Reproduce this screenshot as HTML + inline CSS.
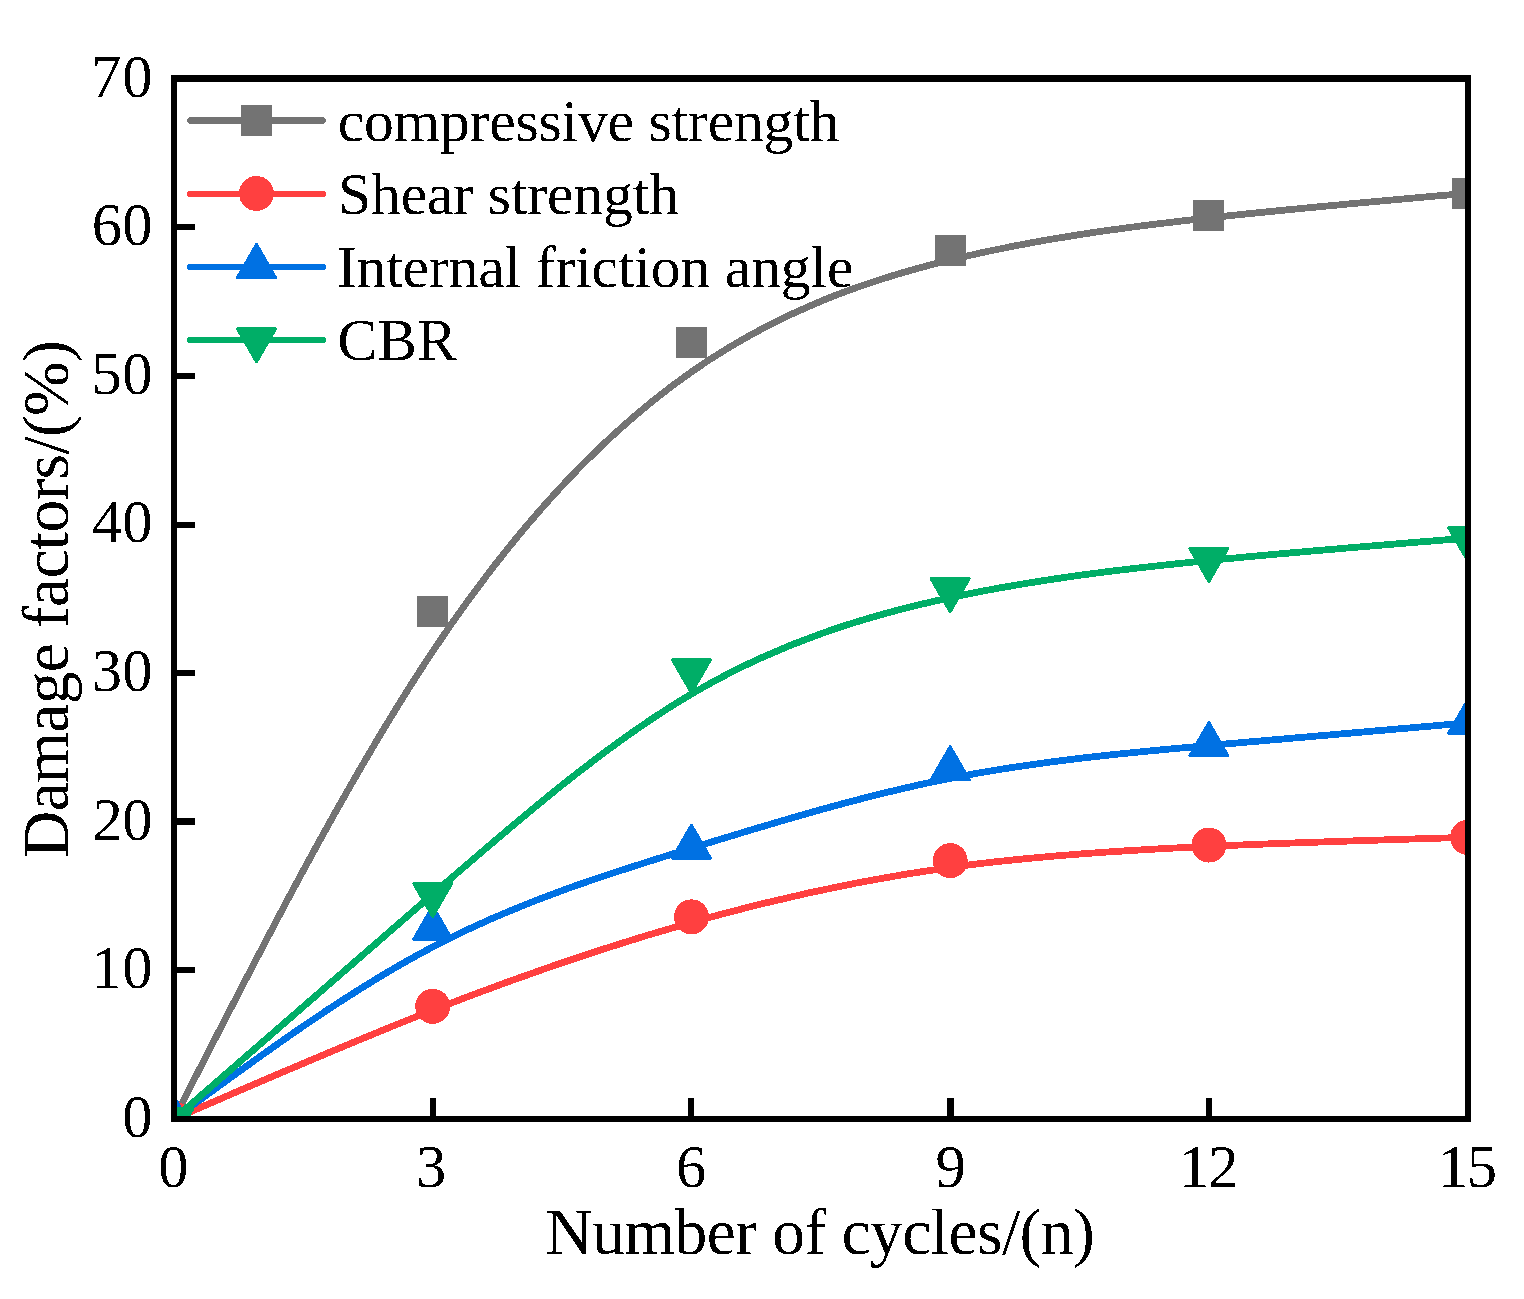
<!DOCTYPE html>
<html><head><meta charset="utf-8"><title>Damage factors vs number of cycles</title>
<style>
html,body{margin:0;padding:0;background:#fff;}
body{width:1524px;height:1299px;overflow:hidden;}
svg{display:block;}
.ce{shape-rendering:crispEdges;}
text{font-family:"Liberation Serif","Times New Roman",serif;fill:#000;}
</style></head><body>
<svg width="1524" height="1299" viewBox="0 0 1524 1299">
<rect width="1524" height="1299" fill="#fff"/>
<defs><clipPath id="pa"><rect x="177" y="82" width="1288" height="1034"/></clipPath></defs>
<g clip-path="url(#pa)" class="ce">
<path d="M174.00,1119.00 C260.24,949.94 346.48,780.89 432.72,651.44 C518.96,522.00 605.20,432.17 691.44,371.92 C777.68,311.67 863.92,281.00 950.16,259.94 C1036.40,238.89 1122.64,227.44 1208.88,217.93 C1295.12,208.41 1381.36,200.83 1467.60,193.25" fill="none" stroke="#737373" stroke-width="6.80" stroke-linecap="round" stroke-linejoin="round"/>
<rect x="158.50" y="1103.50" width="31" height="31" fill="#737373"/>
<rect x="417.22" y="596.33" width="31" height="31" fill="#737373"/>
<rect x="675.94" y="326.84" width="31" height="31" fill="#737373"/>
<rect x="934.66" y="234.83" width="31" height="31" fill="#737373"/>
<rect x="1193.38" y="200.49" width="31" height="31" fill="#737373"/>
<rect x="1452.10" y="177.75" width="31" height="31" fill="#737373"/>
<path d="M174.00,1119.00 C260.24,1081.44 346.48,1043.89 432.72,1010.19 C518.96,976.50 605.20,946.67 691.44,922.40 C777.68,898.12 863.92,879.39 950.16,867.42 C1036.40,855.46 1122.64,850.25 1208.88,846.36 C1295.12,842.47 1381.36,839.90 1467.60,837.32" fill="none" stroke="#ff4040" stroke-width="6.80" stroke-linecap="round" stroke-linejoin="round"/>
<circle cx="174.00" cy="1119.00" r="17.5" fill="#ff4040"/>
<circle cx="432.72" cy="1006.33" r="17.5" fill="#ff4040"/>
<circle cx="691.44" cy="916.85" r="17.5" fill="#ff4040"/>
<circle cx="950.16" cy="860.66" r="17.5" fill="#ff4040"/>
<circle cx="1208.88" cy="845.05" r="17.5" fill="#ff4040"/>
<circle cx="1467.60" cy="837.32" r="17.5" fill="#ff4040"/>
<path d="M174.00,1119.00 C260.24,1055.58 346.48,992.16 432.72,946.95 C518.96,901.73 605.20,874.73 691.44,848.15 C777.68,821.57 863.92,795.40 950.16,778.31 C1036.40,761.22 1122.64,753.19 1208.88,745.46 C1295.12,737.73 1381.36,730.30 1467.60,722.87" fill="none" stroke="#0071e3" stroke-width="6.80" stroke-linecap="round" stroke-linejoin="round"/>
<path d="M174.00,1096.50 L193.00,1129.50 L155.00,1129.50Z" fill="#0071e3" stroke="#0071e3" stroke-width="3.0" stroke-linejoin="round"/>
<path d="M432.72,906.24 L451.72,939.24 L413.72,939.24Z" fill="#0071e3" stroke="#0071e3" stroke-width="3.0" stroke-linejoin="round"/>
<path d="M691.44,825.23 L710.44,858.23 L672.44,858.23Z" fill="#0071e3" stroke="#0071e3" stroke-width="3.0" stroke-linejoin="round"/>
<path d="M950.16,746.74 L969.16,779.74 L931.16,779.74Z" fill="#0071e3" stroke="#0071e3" stroke-width="3.0" stroke-linejoin="round"/>
<path d="M1208.88,722.66 L1227.88,755.66 L1189.88,755.66Z" fill="#0071e3" stroke="#0071e3" stroke-width="3.0" stroke-linejoin="round"/>
<path d="M1467.60,700.37 L1486.60,733.37 L1448.60,733.37Z" fill="#0071e3" stroke="#0071e3" stroke-width="3.0" stroke-linejoin="round"/>
<path d="M174.00,1119.00 C260.24,1043.98 346.48,968.97 432.72,894.18 C518.96,819.39 605.20,744.82 691.44,694.03 C777.68,643.24 863.92,616.24 950.16,597.68 C1036.40,579.13 1122.64,569.02 1208.88,560.50 C1295.12,551.98 1381.36,545.04 1467.60,538.10" fill="none" stroke="#00ae67" stroke-width="6.80" stroke-linecap="round" stroke-linejoin="round"/>
<path d="M155.00,1108.50 L193.00,1108.50 L174.00,1141.50Z" fill="#00ae67" stroke="#00ae67" stroke-width="3.0" stroke-linejoin="round"/>
<path d="M413.72,883.45 L451.72,883.45 L432.72,916.45Z" fill="#00ae67" stroke="#00ae67" stroke-width="3.0" stroke-linejoin="round"/>
<path d="M672.44,659.75 L710.44,659.75 L691.44,692.75Z" fill="#00ae67" stroke="#00ae67" stroke-width="3.0" stroke-linejoin="round"/>
<path d="M931.16,578.74 L969.16,578.74 L950.16,611.74Z" fill="#00ae67" stroke="#00ae67" stroke-width="3.0" stroke-linejoin="round"/>
<path d="M1189.88,548.41 L1227.88,548.41 L1208.88,581.41Z" fill="#00ae67" stroke="#00ae67" stroke-width="3.0" stroke-linejoin="round"/>
<path d="M1448.60,527.60 L1486.60,527.60 L1467.60,560.60Z" fill="#00ae67" stroke="#00ae67" stroke-width="3.0" stroke-linejoin="round"/>
</g>
<g fill="#000">
<rect x="171" y="75" width="1300" height="7"/>
<rect x="171" y="1116" width="1300" height="6"/>
<rect x="171" y="75" width="6" height="1047"/>
<rect x="1465" y="75" width="6" height="1047"/>
<rect x="177" y="224" width="18" height="6"/>
<rect x="177" y="373" width="18" height="6"/>
<rect x="177" y="522" width="18" height="6"/>
<rect x="177" y="670" width="18" height="6"/>
<rect x="177" y="818" width="18" height="7"/>
<rect x="177" y="967" width="18" height="6"/>
<rect x="430" y="1098" width="6" height="18"/>
<rect x="688" y="1098" width="6" height="18"/>
<rect x="947" y="1098" width="7" height="18"/>
<rect x="1206" y="1098" width="6" height="18"/>
</g>
<g class="ce">
<line x1="190.3" y1="120.5" x2="322.7" y2="120.5" stroke="#737373" stroke-width="6.6" stroke-linecap="round"/>
<rect x="241.00" y="105.00" width="31" height="31" fill="#737373"/>
<line x1="190.3" y1="194.0" x2="322.7" y2="194.0" stroke="#ff4040" stroke-width="6.6" stroke-linecap="round"/>
<circle cx="256.50" cy="193.50" r="17.5" fill="#ff4040"/>
<line x1="190.3" y1="267.0" x2="322.7" y2="267.0" stroke="#0071e3" stroke-width="6.6" stroke-linecap="round"/>
<path d="M256.50,244.50 L275.50,277.50 L237.50,277.50Z" fill="#0071e3" stroke="#0071e3" stroke-width="3.0" stroke-linejoin="round"/>
<line x1="190.3" y1="340.0" x2="322.7" y2="340.0" stroke="#00ae67" stroke-width="6.6" stroke-linecap="round"/>
<path d="M237.50,328.80 L275.50,328.80 L256.50,361.80Z" fill="#00ae67" stroke="#00ae67" stroke-width="3.0" stroke-linejoin="round"/>
</g>
<filter id="th" x="0" y="0" width="1524" height="1299" filterUnits="userSpaceOnUse"><feComponentTransfer><feFuncA type="discrete" tableValues="0 1"/></feComponentTransfer></filter>
<g filter="url(#th)">
<text x="122.35" y="1136.80" font-size="60.60">0</text>
<text x="91.21 122.35" y="988.16" font-size="60.60">10</text>
<text x="92.39 122.35" y="839.51" font-size="60.60">20</text>
<text x="91.78 122.35" y="690.87" font-size="60.60">30</text>
<text x="91.93 122.35" y="542.23" font-size="60.60">40</text>
<text x="91.47 122.35" y="393.59" font-size="60.60">50</text>
<text x="91.65 122.35" y="244.94" font-size="60.60">60</text>
<text x="90.93 122.35" y="97.00" font-size="60.60">70</text>
<text x="158.35" y="1186.50" font-size="60.60">0</text>
<text x="416.08" y="1186.50" font-size="60.60">3</text>
<text x="675.95" y="1186.50" font-size="60.60">6</text>
<text x="935.62" y="1186.50" font-size="60.60">9</text>
<text x="1178.91 1208.19" y="1186.50" font-size="60.60">12</text>
<text x="1437.91 1466.72" y="1186.50" font-size="60.60">15</text>
<text x="545.20" y="1254.3" font-size="65.50" textLength="549.60" lengthAdjust="spacing">Number of cycles/(n)</text>
<text transform="translate(67.9,858.00) rotate(-90)" x="0" y="0" font-size="65.50" textLength="517.80" lengthAdjust="spacing">Damage factors/(%)</text>
<text x="337.80" y="140.90" font-size="59.70" textLength="501.60" lengthAdjust="spacing">compressive strength</text>
<text x="338.00" y="214.30" font-size="59.70" textLength="341.00" lengthAdjust="spacing">Shear strength</text>
<text x="336.80" y="287.10" font-size="59.70" textLength="516.60" lengthAdjust="spacing">Internal friction angle</text>
<text x="337.60" y="360.00" font-size="59.70" textLength="119.20" lengthAdjust="spacing">CBR</text>
</g>
</svg>
</body></html>
